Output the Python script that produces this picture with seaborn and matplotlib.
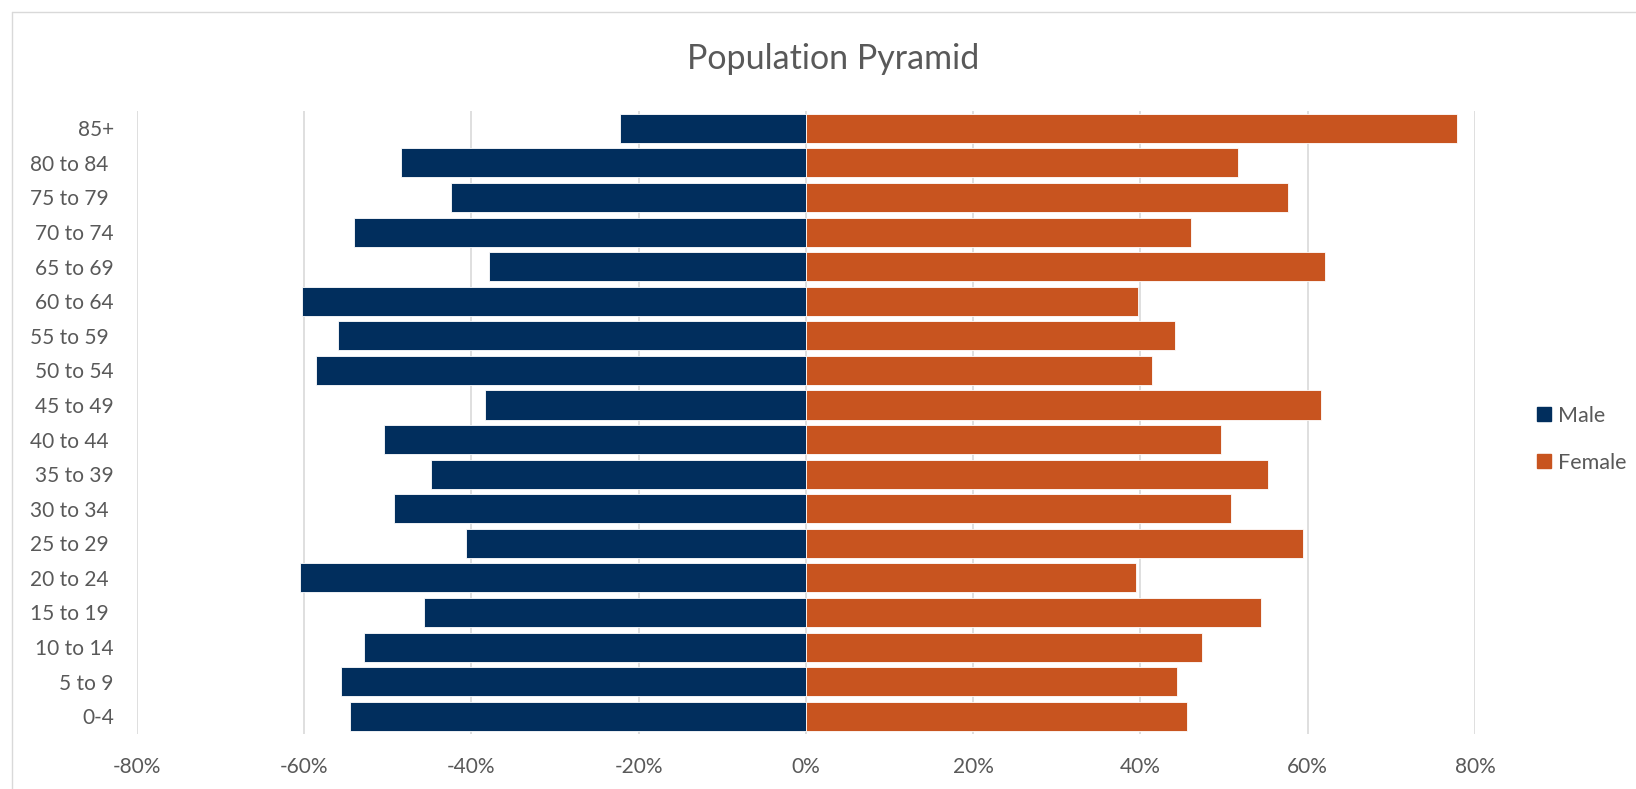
import pandas as pd
import matplotlib.pyplot as plt
import seaborn as sns
from matplotlib.lines import Line2D
from matplotlib.ticker import FuncFormatter

# dados da pirâmide (percentuais)
age_groups = ['85+', '80 to 84 ', '75 to 79 ', '70 to 74', '65 to 69', '60 to 64',
              '55 to 59 ', '50 to 54', '45 to 49', '40 to 44 ', '35 to 39', '30 to 34 ',
              '25 to 29 ', '20 to 24 ', '15 to 19 ', '10 to 14', '5 to 9', '0-4']
male = [22.2, 48.4, 42.4, 54.0, 37.9, 60.3, 56.0, 58.6, 38.4, 50.4,
        44.8, 49.3, 40.6, 60.5, 45.6, 52.8, 55.6, 54.5]
female = [77.8, 51.7, 57.6, 46.0, 62.1, 39.7, 44.1, 41.4, 61.6, 49.6,
          55.2, 50.8, 59.4, 39.5, 54.4, 47.3, 44.4, 45.6]
sexes = ['Male', 'Female']
x_ticks = [-80, -60, -40, -20, 0, 20, 40, 60, 80]

colors = {'Male': '#012E5D', 'Female': '#C8541F'}
text_color = '#595959'

sns.set_style('white')
plt.rcParams['font.family'] = ['Lato', 'DejaVu Sans']

# homens ficam negativos para irem à esquerda
df = pd.DataFrame({
    'Age': age_groups * 2,
    'Sex': ['Male'] * len(male) + ['Female'] * len(female),
    'Pct': [-v for v in male] + female,
})

fig = plt.figure(figsize=(16.36, 7.89), dpi=100)
ax = fig.add_axes([0.0836, 0.0703, 0.818, 0.789])

sns.barplot(data=df, x='Pct', y='Age', hue='Sex', order=age_groups, hue_order=sexes,
            palette=colors, saturation=1, dodge=False, width=0.84, errorbar=None,
            orient='h', edgecolor='white', linewidth=0.6, legend=False, ax=ax)

ax.set_xlim(-80, 80)
ax.set_xticks(x_ticks)
ax.xaxis.set_major_formatter(FuncFormatter(lambda v, p: f'{v:.0f}%'))
ax.grid(axis='x', color='#d9d9d9', linewidth=1.2)
ax.grid(axis='y', visible=False)
ax.set_axisbelow(True)
sns.despine(ax=ax, left=True, bottom=True)
ax.set_xlabel('')
ax.set_ylabel('')
ax.tick_params(axis='both', length=0, labelsize=15, colors=text_color)
ax.tick_params(axis='y', pad=16.5)
ax.tick_params(axis='x', pad=17)

fig.text(0.509, 0.9125, 'Population Pyramid', ha='center', va='baseline',
         fontsize=24.5, color=text_color)

handles = [Line2D([], [], ls='none', marker='s', markersize=9.6,
                  markerfacecolor=colors[s], markeredgecolor=colors[s]) for s in sexes]
fig.legend(handles, sexes, loc='center left', bbox_to_anchor=(0.9392, 0.443),
           frameon=False, fontsize=15.5, handlelength=0.7, handletextpad=0.3,
           labelspacing=1.25, borderpad=0, borderaxespad=0, labelcolor=text_color)

# borda da área do gráfico (estilo Excel)
fig.add_artist(Line2D([0.0073, 1], [0.9848, 0.9848], color='#d9d9d9', lw=1.0))
fig.add_artist(Line2D([0.0073, 0.0073], [0, 0.9848], color='#d9d9d9', lw=1.0))

fig.savefig('out.png', dpi=100)
